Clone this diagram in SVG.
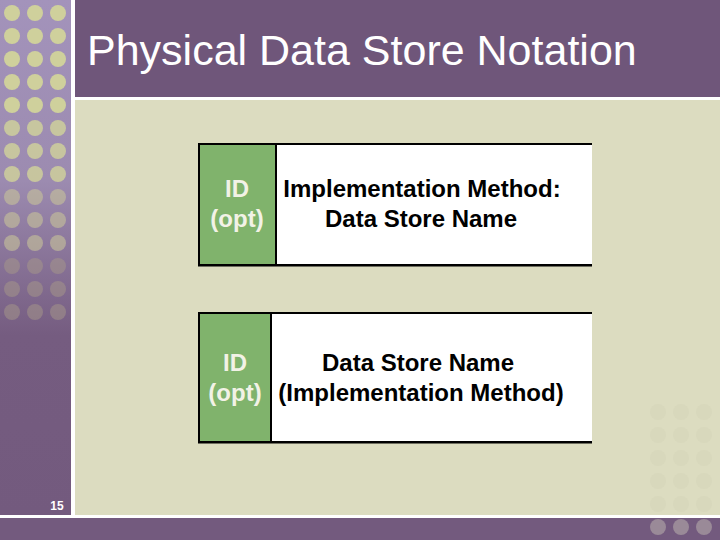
<svg xmlns="http://www.w3.org/2000/svg" width="720" height="540" viewBox="0 0 720 540">
<defs>
<linearGradient id="strip" x1="0" y1="0" x2="0" y2="1">
<stop offset="0" stop-color="#a393bb"/>
<stop offset="0.35" stop-color="#9c8bb0"/>
<stop offset="0.65" stop-color="#755c80"/>
<stop offset="1" stop-color="#735a7e"/>
</linearGradient>
<style>
.t{font-family:"Liberation Sans",Arial,sans-serif;font-weight:bold;font-size:24px;text-anchor:middle}
.id{fill:#f2f2e6}
.nm{fill:#000}
.ln{stroke:#000;stroke-width:2;fill:none}
</style>
</defs>
<rect width="720" height="540" fill="#dcdcc0"/>
<rect x="0" y="0" width="71" height="516" fill="url(#strip)"/>
<rect x="75" y="0" width="645" height="97" fill="#6f567a"/>
<rect x="0" y="518" width="720" height="22" fill="#735a7e"/>
<rect x="71" y="0" width="4" height="516" fill="#fff"/>
<rect x="75" y="97" width="645" height="3" fill="#fff"/>
<rect x="0" y="515" width="720" height="3" fill="#fff"/>
<g id="dots">
<g fill="#cfd09c">
<circle cx="12" cy="13" r="8"/><circle cx="35" cy="13" r="8"/><circle cx="58" cy="13" r="8"/>
<circle cx="12" cy="36" r="8"/><circle cx="35" cy="36" r="8"/><circle cx="58" cy="36" r="8"/>
<circle cx="12" cy="59" r="8"/><circle cx="35" cy="59" r="8"/><circle cx="58" cy="59" r="8"/>
<circle cx="12" cy="82" r="8"/><circle cx="35" cy="82" r="8"/><circle cx="58" cy="82" r="8"/>
<circle cx="12" cy="105" r="8"/><circle cx="35" cy="105" r="8"/><circle cx="58" cy="105" r="8"/>
</g>
<g fill="#cfd09c" opacity="0.85">
<circle cx="12" cy="128" r="8"/><circle cx="35" cy="128" r="8"/><circle cx="58" cy="128" r="8"/>
<circle cx="12" cy="151" r="8"/><circle cx="35" cy="151" r="8"/><circle cx="58" cy="151" r="8"/>
<circle cx="12" cy="174" r="8"/><circle cx="35" cy="174" r="8"/><circle cx="58" cy="174" r="8"/>
</g>
<g fill="#c8c49a" opacity="0.6">
<circle cx="12" cy="197" r="8"/><circle cx="35" cy="197" r="8"/><circle cx="58" cy="197" r="8"/>
<circle cx="12" cy="220" r="8"/><circle cx="35" cy="220" r="8"/><circle cx="58" cy="220" r="8"/>
<circle cx="12" cy="243" r="8"/><circle cx="35" cy="243" r="8"/><circle cx="58" cy="243" r="8"/>
</g>
<g fill="#a89a8a" opacity="0.5">
<circle cx="12" cy="266" r="8"/><circle cx="35" cy="266" r="8"/><circle cx="58" cy="266" r="8"/>
<circle cx="12" cy="289" r="8"/><circle cx="35" cy="289" r="8"/><circle cx="58" cy="289" r="8"/>
<circle cx="12" cy="312" r="8"/><circle cx="35" cy="312" r="8"/><circle cx="58" cy="312" r="8"/>
</g>
<g fill="#d6d6ba" opacity="0.6">
<circle cx="658" cy="412" r="8"/><circle cx="681" cy="412" r="8"/><circle cx="704" cy="412" r="8"/>
<circle cx="658" cy="435" r="8"/><circle cx="681" cy="435" r="8"/><circle cx="704" cy="435" r="8"/>
<circle cx="658" cy="458" r="8"/><circle cx="681" cy="458" r="8"/><circle cx="704" cy="458" r="8"/>
<circle cx="658" cy="481" r="8"/><circle cx="681" cy="481" r="8"/><circle cx="704" cy="481" r="8"/>
<circle cx="658" cy="504" r="8"/><circle cx="681" cy="504" r="8"/><circle cx="704" cy="504" r="8"/>
</g>
<g fill="#9a8a98">
<circle cx="658" cy="527" r="8"/><circle cx="681" cy="527" r="8"/><circle cx="704" cy="527" r="8"/>
</g>
</g>
<text x="87" y="65" font-family="Liberation Sans,Arial,sans-serif" font-size="43" fill="#fff">Physical Data Store Notation</text>
<text x="57" y="510" font-family="Liberation Sans,Arial,sans-serif" font-size="12" font-weight="bold" fill="#fff" text-anchor="middle">15</text>
<g id="store1">
<rect x="198" y="144" width="78" height="122" fill="#80b36c"/>
<rect x="276" y="144" width="316" height="122" fill="#fff"/>
<path class="ln" d="M592 144H199V265H592" stroke-width="1.5"/>
<line class="ln" x1="198" y1="265.5" x2="592" y2="265.5" stroke-width="2.5"/>
<line class="ln" x1="276" y1="144" x2="276" y2="265"/>
<text class="t id" x="237" y="197">ID</text>
<text class="t id" x="237" y="227">(opt)</text>
<text class="t nm" x="422" y="197">Implementation Method:</text>
<text class="t nm" x="421" y="227">Data Store Name</text>
</g>
<g id="store2">
<rect x="198" y="313" width="73" height="130" fill="#80b36c"/>
<rect x="271" y="313" width="321" height="130" fill="#fff"/>
<path class="ln" d="M592 313H199V442H592" stroke-width="1.5"/>
<line class="ln" x1="198" y1="442.5" x2="592" y2="442.5" stroke-width="2.5"/>
<line class="ln" x1="271" y1="313" x2="271" y2="442"/>
<text class="t id" x="235" y="371">ID</text>
<text class="t id" x="235" y="401">(opt)</text>
<text class="t nm" x="418" y="371">Data Store Name</text>
<text class="t nm" x="421" y="401">(Implementation Method)</text>
</g>
<g id="connectors"/>
</svg>
